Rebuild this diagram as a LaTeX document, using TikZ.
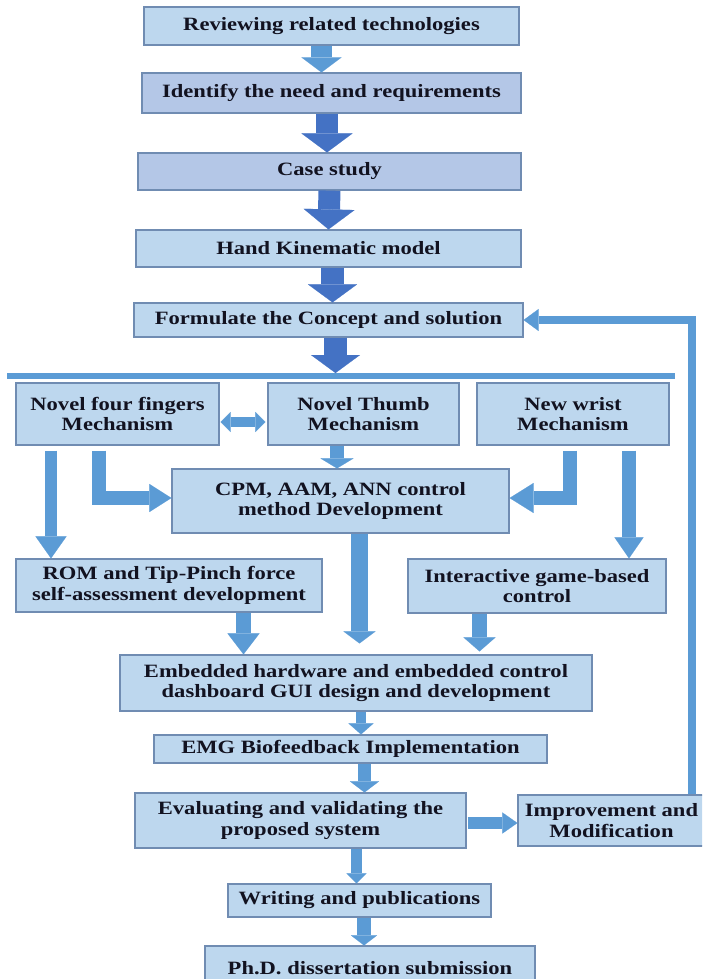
\documentclass[tikz,border=0pt]{standalone}
\usepackage{fontspec}
\setmainfont{Liberation Serif}[FakeStretch=1.2]
\usetikzlibrary{arrows.meta}

\definecolor{boxfill}{RGB}{189,215,238}
\definecolor{boxfilldk}{RGB}{180,199,231}
\definecolor{boxline}{RGB}{112,140,178}
\definecolor{arrlight}{RGB}{91,155,213}
\definecolor{arrdark}{RGB}{68,114,196}
\definecolor{txt}{RGB}{18,18,32}
\newcommand{\boxfont}{\fontsize{18.8}{20.5}\selectfont\bfseries}

\tikzset{
  box/.style={draw=boxline, fill=boxfill, line width=1.2pt, inner sep=0pt,
    align=center, text=txt, font=\boxfont},
  arr/.style n args={4}{color=#1, line width=#2,
    -{Triangle[length=#3,width=#4,line width=0.1pt]}},
  dblarr/.style n args={4}{color=#1, line width=#2,
    {Triangle[length=#3,width=#4,line width=0.1pt]}-{Triangle[length=#3,width=#4,line width=0.1pt]}},
}

\begin{document}
\begin{tikzpicture}[x=1pt,y=-1pt]
    \useasboundingbox (0,0) rectangle (702,979);
    \clip (0,0) rectangle (702,979);

    % fasi iniziali
    \node[box, minimum width=375pt, minimum height=38pt] (review) at (331.5,26) {Reviewing related technologies};
    \node[box, fill=boxfilldk, minimum width=379pt, minimum height=40pt] (identify) at (331.5,93) {Identify the need and requirements};
    \node[box, fill=boxfilldk, minimum width=383pt, minimum height=37pt] (case) at (329.5,171.5) {Case study};
    \node[box, minimum width=385pt, minimum height=37pt] (kinematic) at (328.5,248.5) {Hand Kinematic model};
    \node[box, minimum width=389pt, minimum height=34pt] (concept) at (328.5,320) {Formulate the Concept and solution};

    % barra
    \coordinate (barL) at (7,376);
    \coordinate (barR) at (675,376);
    \coordinate (barin) at (335.5,373);
    \draw[arrlight, line width=6pt] (barL) -- (barR);

    % meccanismi
    \node[box, minimum width=203pt, minimum height=62pt] (fingers) at (117.5,414) {Novel four fingers\\Mechanism};
    \node[box, minimum width=191pt, minimum height=62pt] (thumb) at (363.5,414) {Novel Thumb\\Mechanism};
    \node[box, minimum width=192pt, minimum height=62pt] (wrist) at (573,414) {New wrist\\Mechanism};

    % controllo
    \node[box, minimum width=337pt, minimum height=64pt] (cpm) at (340.5,501) {CPM, AAM, ANN control\\method Development};
    \node[box, minimum width=306pt, minimum height=53pt] (rom) at (169,585.5) {ROM and Tip-Pinch force\\self-assessment development};
    \node[box, minimum width=258pt, minimum height=54pt] (game) at (537,586) {Interactive game-based\\control};
    \node[box, minimum width=472pt, minimum height=56pt] (embedded) at (356,683) {Embedded hardware and embedded control\\dashboard GUI design and development};

    % fasi finali
    \node[box, minimum width=393pt, minimum height=28pt] (emg) at (350.5,749) {EMG Biofeedback Implementation};
    \node[box, minimum width=331pt, minimum height=55pt] (evaluate) at (300.5,820.5) {Evaluating and validating the\\proposed system};
    \node[box, minimum width=187pt, minimum height=51pt] (improve) at (611.5,820.5) {Improvement and\\Modification};
    \node[box, minimum width=263pt, minimum height=33pt] (writing) at (359.5,900.5) {Writing and publications};
    \node[box, minimum width=330pt, minimum height=44pt] (phd) at (370,968) {Ph.D. dissertation submission};

    % frecce in alto
    \draw[arr={arrlight}{21pt}{15pt}{40pt}] ([xshift=-10pt]review.south) -- ([xshift=-10pt]identify.north);
    \draw[arr={arrdark}{22pt}{19pt}{51pt}] ([xshift=-4.5pt]identify.south) -- ([xshift=-2.5pt]case.north);
    \draw[arr={arrdark}{22pt}{20pt}{51pt}] (case.south) -- (kinematic.north);
    \draw[arr={arrdark}{23pt}{18pt}{49pt}] ([xshift=4pt]kinematic.south) -- ([xshift=4pt]concept.north);
    \draw[arr={arrdark}{23pt}{18pt}{49pt}] ([xshift=7pt]concept.south) -- (barin);

    % frecce centrali
    \draw[dblarr={arrlight}{10pt}{10pt}{20pt}] ([xshift=1pt,yshift=-8pt]fingers.east) -- ([xshift=-2pt,yshift=-8pt]thumb.west);
    \draw[arr={arrlight}{14pt}{10pt}{33pt}] ([xshift=-26.5pt]thumb.south) -- ([xshift=-3.5pt]cpm.north);
    \draw[arr={arrlight}{12pt}{22pt}{31pt}] ([xshift=-66.5pt,yshift=-5pt]fingers.south) -- ([xshift=-118pt]rom.north);
    \draw[arr={arrlight}{14pt}{22pt}{28pt}] ([xshift=-18.5pt,yshift=-5pt]fingers.south) |- ([yshift=3pt]cpm.west);
    \draw[arr={arrlight}{14pt}{24pt}{30pt}] ([xshift=-3pt,yshift=-5pt]wrist.south) |- ([yshift=3pt]cpm.east);
    \draw[arr={arrlight}{14pt}{21pt}{29pt}] ([xshift=56pt,yshift=-5pt]wrist.south) -- ([xshift=92pt]game.north);

    % verso embedded
    \draw[arr={arrlight}{15pt}{21pt}{32pt}] ([xshift=74.5pt]rom.south) -- ([xshift=-112.5pt]embedded.north);
    \draw[arr={arrlight}{17pt}{12pt}{32pt}, shorten >=11pt] ([xshift=19pt]cpm.south) -- ([xshift=3.5pt]embedded.north);
    \draw[arr={arrlight}{15pt}{14pt}{32pt}, shorten >=3pt] ([xshift=-57.5pt]game.south) -- ([xshift=123.5pt]embedded.north);

    % frecce in basso
    \draw[arr={arrlight}{10pt}{11pt}{25pt}] ([xshift=5pt]embedded.south) -- ([xshift=10.5pt]emg.north);
    \draw[arr={arrlight}{13pt}{11pt}{29pt}] ([xshift=14pt]emg.south) -- ([xshift=64pt]evaluate.north);
    \draw[arr={arrlight}{12pt}{15pt}{21pt}] ([xshift=1pt,yshift=-2.5pt]evaluate.east) -- ([yshift=-2.5pt]improve.west);
    \draw[arr={arrlight}{11pt}{10pt}{20pt}] ([xshift=56pt]evaluate.south) -- ([xshift=-3pt]writing.north);
    \draw[arr={arrlight}{14pt}{10pt}{26pt}] ([xshift=4.5pt]writing.south) -- ([xshift=-6pt]phd.north);

    % retroazione
    \draw[arr={arrlight}{8pt}{15pt}{22pt}] ([xshift=80.5pt]improve.north) |- (concept.east);
\end{tikzpicture}
\end{document}
